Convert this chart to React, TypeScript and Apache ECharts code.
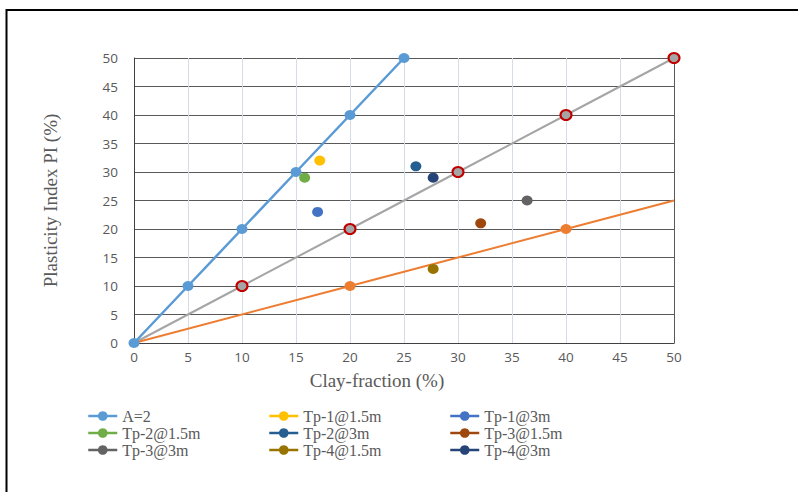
import React, { useEffect, useRef } from "react";
import * as echarts from "echarts";

const xTicks = [0, 5, 10, 15, 20, 25, 30, 35, 40, 45, 50];
const lineA2: number[][] = [[0, 0], [5, 10], [10, 20], [15, 30], [20, 40], [25, 50]];
const lineGrey: number[][] = [[0, 0], [10, 10], [20, 20], [30, 30], [40, 40], [50, 50]];
const lineOrange: number[][] = [[0, 0], [20, 10], [40, 20], [50, 25]];

const pointNames = [
  "Tp-1@1.5m", "Tp-1@3m", "Tp-2@1.5m", "Tp-2@3m",
  "Tp-3@1.5m", "Tp-3@3m", "Tp-4@1.5m", "Tp-4@3m",
];
const pointX = [17.2, 17.0, 15.8, 26.1, 32.1, 36.4, 27.7, 27.7];
const pointY = [32, 23, 29, 31, 21, 25, 13, 29];
const pointColors = ["#FFC000", "#4472C4", "#70AD47", "#255E91", "#9E480E", "#636363", "#997300", "#264478"];

const legendCols = [
  ["A=2", "Tp-2@1.5m", "Tp-3@3m"],
  ["Tp-1@1.5m", "Tp-2@3m", "Tp-4@1.5m"],
  ["Tp-1@3m", "Tp-3@1.5m", "Tp-4@3m"],
];
const legendLeft = [87, 268, 449];

export default function App() {
  const ref = useRef<HTMLDivElement>(null);
  useEffect(() => {
    if (!ref.current) return;
    const chart = echarts.init(ref.current, null, { renderer: "svg" });
    const serif = "Liberation Serif";
    const pointSeries = pointNames.map((n, i) => ({
      name: n,
      type: "line",
      data: [[pointX[i], pointY[i]]],
      symbol: "circle",
      symbolSize: [11, 10],
      itemStyle: { color: pointColors[i] },
      lineStyle: { color: pointColors[i], width: 2.5 },
      z: 5,
    }));
    const hideEnds = (arr: number[][], first: boolean, last: boolean) =>
      arr.map((p, i) =>
        (first && i === 0) || (last && i === arr.length - 1) ? { value: p, symbol: "none" } : p
      );
    chart.setOption({
      animation: false,
      grid: { left: 134, right: 124, top: 58, bottom: 149 },
      graphic: [
        {
          type: "rect",
          shape: { x: 6.5, y: 10, width: 900, height: 600 },
          style: { fill: "none", stroke: "#000", lineWidth: 2 },
          silent: true,
        },
      ],
      legend: legendCols.map((col, i) => ({
        orient: "vertical",
        left: legendLeft[i],
        top: 408,
        padding: 0,
        data: col,
        itemWidth: 29,
        itemHeight: 12,
        itemGap: 1,
        textStyle: { fontFamily: serif, fontSize: 16, color: "#595959", lineHeight: 16 },
        lineStyle: { width: 2.5 },
      })),
      xAxis: {
        type: "value",
        min: 0,
        max: 50,
        interval: 5,
        data: xTicks,
        name: "Clay-fraction (%)",
        nameLocation: "middle",
        nameGap: 28,
        nameTextStyle: { fontFamily: serif, fontSize: 19, color: "#595959", padding: [0, 54, 0, 0] },
        axisLine: { lineStyle: { color: "#404040", width: 1 } },
        axisTick: { show: false },
        axisLabel: { fontFamily: "Open Sans", fontSize: 13.5, color: "#595959", margin: 7 },
        splitLine: { show: true, lineStyle: { color: "#D6DCE5", width: 1 } },
      },
      yAxis: [
        {
          type: "value",
          min: 0,
          max: 50,
          interval: 5,
          name: "Plasticity Index PI (%)",
          nameLocation: "middle",
          nameGap: 74,
          nameTextStyle: { fontFamily: serif, fontSize: 19, color: "#595959" },
          axisLine: { show: true, lineStyle: { color: "#404040", width: 1 } },
          axisTick: { show: false },
          axisLabel: { fontFamily: "Open Sans", fontSize: 13.5, color: "#595959", margin: 16 },
          splitLine: { show: true, lineStyle: { color: "#595959", width: 1 } },
        },
        {
          type: "value",
          min: 0,
          max: 50,
          interval: 5,
          position: "right",
          axisLine: { show: true, lineStyle: { color: "#595959", width: 1 } },
          axisTick: { show: false },
          axisLabel: { show: false },
          splitLine: { show: false },
        },
      ],
      series: [
        {
          name: "grey",
          type: "line",
          data: hideEnds(lineGrey, true, false),
          symbol: "circle",
          symbolSize: [11, 10],
          itemStyle: { color: "#A5A5A5", borderColor: "#C00000", borderWidth: 2 },
          lineStyle: { color: "#A5A5A5", width: 2 },
          z: 2,
        },
        {
          name: "orange",
          type: "line",
          data: hideEnds(lineOrange, true, true),
          symbol: "circle",
          symbolSize: [11, 10],
          itemStyle: { color: "#ED7D31" },
          lineStyle: { color: "#ED7D31", width: 2 },
          z: 2,
        },
        {
          name: "A=2",
          type: "line",
          data: lineA2,
          symbol: "circle",
          symbolSize: [11, 10],
          itemStyle: { color: "#5B9BD5" },
          lineStyle: { color: "#5B9BD5", width: 2.5 },
          z: 3,
        },
        ...pointSeries,
      ],
    });
    return () => chart.dispose();
  }, []);
  return (
    <div
      ref={ref}
      style={{ position: "fixed", left: 0, top: 0, width: 798, height: 492, background: "#fff" }}
    />
  );
}
